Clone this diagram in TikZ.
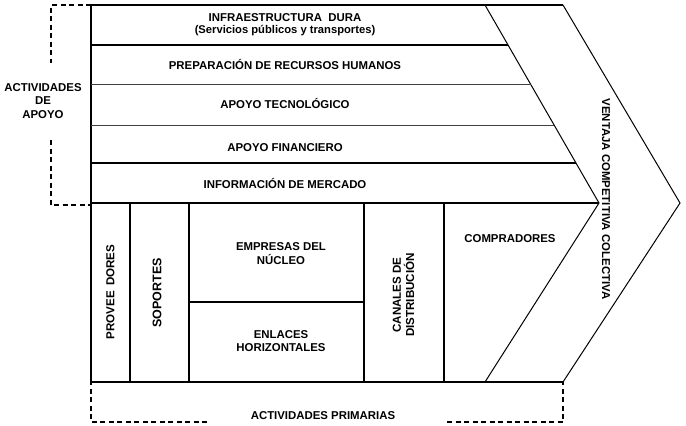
\documentclass[tikz,border=0pt]{standalone}
\usepackage{fontspec}
\setmainfont{Liberation Sans}
\begin{document}
\begin{tikzpicture}[x=1pt,y=-1pt,
  lbl/.style={font=\bfseries\fontsize{11.4}{13.3}\selectfont, align=center, inner sep=0pt},
  sublbl/.style={font=\bfseries\fontsize{11.2}{13}\selectfont, align=center, inner sep=0pt},
  vlbl/.style={font=\bfseries\fontsize{11.6}{13.3}\selectfont, align=center, inner sep=0pt, rotate=90},
  thk/.style={line width=2pt},
  med/.style={line width=1.3pt},
  thn/.style={line width=0.9pt, black!75},
  diag/.style={line width=1pt},
  brk/.style={line width=1.4pt, dash pattern=on 5pt off 3.5pt}]
\useasboundingbox (0,0) rectangle (686,426);
% outer arrow (ventaja competitiva)
\draw[diag] (563,5) -- (680,203) -- (563,382);
\draw[diag] (485,5) -- (599,203) -- (485,382);
% main frame
\draw[thk] (563,5) -- (91,5) -- (91,382) -- (563,382);
% support rows
\draw[thk] (91,45) -- (508,45);
\draw[thn] (91,84) -- (530.5,84);
\draw[thn] (91,125) -- (554.1,125);
\draw[thk] (91,163) -- (576,163);
\draw[thk] (91,203) -- (599,203);
% primary section
\draw[thk] (130,203) -- (130,382);
\draw[thk] (189,203) -- (189,382);
\draw[med] (364,203) -- (364,382);
\draw[med] (444,203) -- (444,382);
\draw[thk] (189,302) -- (364,302);
% support labels
\node[lbl] (infra) at (285,18) {INFRAESTRUCTURA\ \ DURA};
\node[sublbl] (serv) at (285,31) {(Servicios públicos y transportes)};
\node[lbl] (rrhh) at (285,65) {PREPARACIÓN DE RECURSOS HUMANOS};
\node[lbl] (tec) at (285,104) {APOYO TECNOLÓGICO};
\node[lbl] (fin) at (285,148) {APOYO FINANCIERO};
\node[lbl] (mer) at (285,184) {INFORMACIÓN DE MERCADO};
% primary labels
\node[vlbl] (prov) at (110.5,292) {PROVEE\hspace{5pt}DORES};
\node[vlbl, font=\bfseries\fontsize{12.5}{14}\selectfont] (sop) at (157,293) {SOPORTES};
\node[lbl] (emp) at (281,253.5) {EMPRESAS DEL\\NÚCLEO};
\node[lbl] (enl) at (281,341) {ENLACES\\HORIZONTALES};
\node[vlbl] (can) at (403.5,295) {CANALES DE\\DISTRIBUCIÓN};
\node[lbl] (comp) at (510,239) {COMPRADORES};
\node[lbl, rotate=-90] (vent) at (606,199) {VENTAJA COMPETITIVA COLECTIVA};
% brackets
\node[lbl] (apoyo) at (43,101) {ACTIVIDADES\\DE\\APOYO};
\draw[brk] (91,5) -- (51,5) -- (51,63);
\draw[brk] (51,140) -- (51,205) -- (91,205);
\node[lbl] (prim) at (323,416) {ACTIVIDADES PRIMARIAS};
\draw[brk] (207,422) -- (91,422) -- (91,382);
\draw[brk] (447,422) -- (563,422) -- (563,382);
\end{tikzpicture}
\end{document}
